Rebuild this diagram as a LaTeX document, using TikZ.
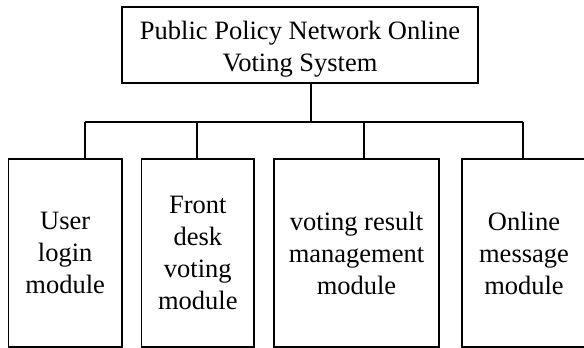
\documentclass[tikz,border=0pt]{standalone}
\usepackage{fontspec}
\setmainfont{Liberation Serif}
\begin{document}
\begin{tikzpicture}[x=1pt,y=-1pt,
  box/.style={draw=black,line width=1.3pt,rectangle,inner sep=0pt,align=center,
    font=\fontsize{26.5}{32}\selectfont},
  txt/.style={inner sep=0pt,align=center,font=\fontsize{26.5}{32}\selectfont},
  conn/.style={draw=black,line width=1.3pt}]
\useasboundingbox (0,0) rectangle (584,348);
\node[box,minimum width=356pt,minimum height=76pt] (top) at (300,45) {};
\node[txt] (toptext) at (300,49) {Public Policy Network Online\\Voting System};
\node[box,minimum width=113.6pt,minimum height=188pt] (b1) at (65.2,253)
  {User\\login\\module};
\node[box,minimum width=112.6pt,minimum height=188pt] (b2) at (197.8,253)
  {Front\\desk\\voting\\module};
\node[box,minimum width=165pt,minimum height=188pt] (b3) at (356.5,253)
  {voting result\\management\\module};
\node[box,minimum width=124pt,minimum height=188pt] (b4) at (524,253)
  {Online\\message\\module};
\coordinate (j) at (311,122);
\coordinate (d1) at (85,122);
\coordinate (d2) at (197,122);
\coordinate (d3) at (364,122);
\coordinate (d4) at (523,122);
\draw[conn] (top.south -| j) -- (j);
\draw[conn] (d1) -- (d4);
\draw[conn] (d1) -- (d1 |- b1.north);
\draw[conn] (d2) -- (d2 |- b2.north);
\draw[conn] (d3) -- (d3 |- b3.north);
\draw[conn] (d4) -- (d4 |- b4.north);
\end{tikzpicture}
\end{document}
